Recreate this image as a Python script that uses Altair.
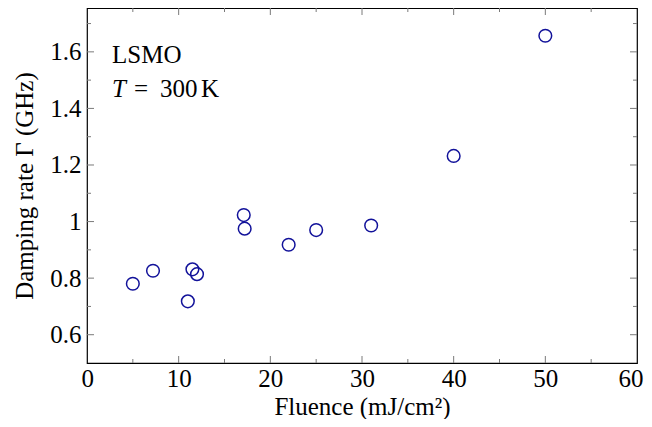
import altair as alt
import pandas as pd

# Data
fluence = [5.0, 7.2, 11.0, 11.5, 12.0, 17.1, 17.2, 22.0, 25.0, 31.0, 40.0, 50.0]
damping = [0.780, 0.826, 0.718, 0.831, 0.814, 1.023, 0.975, 0.918, 0.970, 0.986, 1.232, 1.657]

x_labels = [0, 10, 20, 30, 40, 50, 60]
y_labels = [0.6, 0.8, 1.0, 1.2, 1.4, 1.6]
x_major = [10, 20, 30, 40, 50]
x_minor = [5, 15, 25, 35, 45, 55]
y_major = [0.6, 0.8, 1.0, 1.2, 1.4, 1.6]
y_minor = [0.7, 0.9, 1.1, 1.3, 1.5, 1.7]

W, H = 550, 355
FONT = "Liberation Serif"
FS = 25
TICK_COLOR = "#7a7a7a"
MAJ, MIN = 7, 4

xs = alt.Scale(domain=[0, 60], nice=False, zero=False)
ys = alt.Scale(domain=[0.5, 1.755], nice=False, zero=False)

df = pd.DataFrame({"x": fluence, "y": damping})

points = alt.Chart(df).mark_point(
    shape="circle", filled=False, size=160, strokeWidth=1.5, color="#12129a", opacity=1
).encode(
    x=alt.X("x:Q", scale=xs, axis=alt.Axis(
        values=x_labels, format="d", title="Fluence (mJ/cm²)",
        labelFlush=True, labelFlushOffset=6, labelOverlap=False,
        labelPadding=3, titlePadding=3)),
    y=alt.Y("y:Q", scale=ys, axis=alt.Axis(
        values=y_labels, format=".1~f", title="Damping rate Γ (GHz)",
        labelFlush=False, labelOverlap=False, labelPadding=6, titlePadding=12)),
)


def xticks(vals, length, top):
    d = pd.DataFrame({"x": vals})
    if top:
        enc = dict(y=alt.value(0), y2=alt.value(length))
    else:
        enc = dict(y=alt.value(H), y2=alt.value(H - length))
    return alt.Chart(d).mark_rule(color=TICK_COLOR, strokeWidth=1).encode(
        x=alt.X("x:Q", scale=xs), **enc)


def yticks(vals, length, right):
    d = pd.DataFrame({"y": vals})
    if right:
        enc = dict(x=alt.value(W), x2=alt.value(W - length))
    else:
        enc = dict(x=alt.value(0), x2=alt.value(length))
    return alt.Chart(d).mark_rule(color=TICK_COLOR, strokeWidth=1).encode(
        y=alt.Y("y:Q", scale=ys), **enc)


ticks = [
    xticks(x_major, MAJ, False), xticks(x_minor, MIN, False),
    xticks(x_major, MAJ, True), xticks(x_minor, MIN, True),
    yticks(y_major, MAJ, False), yticks(y_minor, MIN, False),
    yticks(y_major, MAJ, True), yticks(y_minor, MIN, True),
]


def label(txt, x, y, italic=False):
    return alt.Chart(pd.DataFrame({"t": [txt]})).mark_text(
        align="left", baseline="alphabetic", font=FONT, fontSize=FS,
        fontStyle="italic" if italic else "normal", color="black"
    ).encode(text="t:N", x=alt.value(x), y=alt.value(y))


annotations = [
    label("LSMO", 25, 55),
    label("T", 25, 89, italic=True),
    label("=", 47, 89),
    label("300", 73, 89),
    label("K", 114, 89),
]

chart = alt.layer(points, *ticks, *annotations).properties(
    width=W, height=H,
    autosize=alt.AutoSizeParams(type="none"),
    padding={"left": 79, "top": 0, "right": 7, "bottom": 56},
).configure_view(
    stroke="black", strokeWidth=1.2
).configure_axis(
    grid=False, ticks=False, domain=False,
    labelFont=FONT, labelFontSize=FS, labelColor="black",
    titleFont=FONT, titleFontSize=FS, titleColor="black", titleFontWeight="normal",
)

chart.save("out.html", embed_options={"renderer": "svg", "actions": False})
